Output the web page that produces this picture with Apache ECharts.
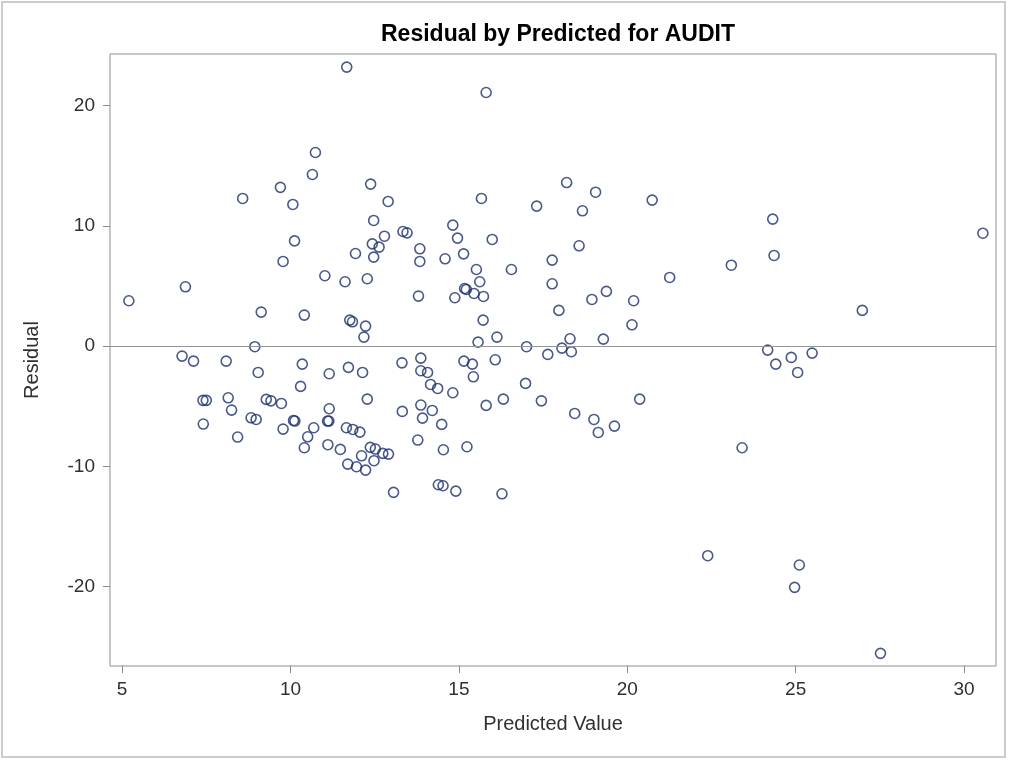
<!DOCTYPE html>
<html>
<head>
<meta charset="utf-8">
<script src="https://cdn.jsdelivr.net/npm/echarts@6/dist/echarts.min.js"></script>
<style>
  html, body { margin: 0; padding: 0; background: #ffffff; }
  #chart { width: 1012px; height: 760px; }
</style>
</head>
<body>
<div id="chart"></div>
<script>
// ---- Data ----
const predictedValues = [
  11.67, 10.74, 10.65, 9.70, 8.58, 10.07, 12.38, 12.90, 12.47, 10.12,
  12.79, 12.43, 12.63, 11.93, 12.47, 9.78, 11.02, 11.62, 12.28, 6.88,
  5.20, 9.13, 10.41, 11.76, 11.84, 12.23, 12.18, 8.94,
  6.78, 7.12, 8.09, 9.04, 10.35, 11.15, 11.72, 12.14, 10.30, 7.40,
  7.50, 8.15, 8.25, 9.28, 9.42, 9.73, 7.41, 8.43, 8.83, 8.98,
  9.78, 10.09, 10.13, 10.51, 10.41, 10.69, 11.15, 11.10, 11.14, 12.28,
  11.11, 11.48, 11.66, 11.85, 12.06, 12.11, 11.70, 11.96, 12.23, 12.48,
  12.37, 12.52, 12.74, 12.91, 13.06,
  15.81, 18.20, 19.06, 20.74, 18.67, 17.31, 15.67, 13.34, 13.46, 14.82,
  14.96, 13.84, 13.84, 14.59, 15.14, 15.99, 18.57, 17.77, 15.52, 16.56,
  15.62, 17.77, 21.26, 15.17, 15.22, 15.45, 15.73, 14.88, 13.80, 19.38,
  18.95, 20.19, 17.97, 15.72, 20.14, 16.13, 15.57, 18.30, 19.29, 17.01,
  17.64, 18.06, 18.34, 13.87,
  13.31, 13.87, 14.07, 15.15, 15.40, 16.08, 15.43, 16.98, 14.16, 14.37,
  14.82, 13.32, 13.87, 14.21, 13.92, 14.49, 15.81, 16.32, 17.45, 20.37,
  18.44, 19.01, 19.14, 19.62, 13.78, 14.54, 15.24, 14.39, 14.53, 14.91,
  16.28,
  24.32, 24.36, 23.09, 30.56, 26.98, 24.17, 24.41, 24.87, 25.49, 25.06,
  23.41, 22.39, 25.11, 24.97, 27.52
];
const residuals = [
  23.2, 16.1, 14.27, 13.2, 12.28, 11.78, 13.47, 12.03, 10.45, 8.75,
  9.14, 8.50, 8.23, 7.70, 7.40, 7.04, 5.85, 5.35, 5.60, 4.93,
  3.77, 2.83, 2.58, 2.16, 2.02, 1.66, 0.75, -0.05,
  -0.83, -1.25, -1.25, -2.19, -1.50, -2.30, -1.77, -2.19, -3.35, -4.51,
  -4.51, -4.30, -5.32, -4.43, -4.55, -4.77, -6.48, -7.56, -5.96, -6.10,
  -6.90, -6.18, -6.23, -7.54, -8.45, -6.79, -5.21, -6.23, -6.23, -4.41,
  -8.20, -8.59, -6.79, -6.93, -7.15, -9.12, -9.81, -10.03, -10.31, -9.53,
  -8.42, -8.56, -8.92, -8.98, -12.16,
  21.09, 13.6, 12.8, 12.14, 11.25, 11.64, 12.28, 9.53, 9.42, 10.06,
  8.98, 8.09, 7.04, 7.26, 7.67, 8.87, 8.34, 7.15, 6.37, 6.37,
  5.35, 5.18, 5.71, 4.79, 4.71, 4.38, 4.13, 4.02, 4.16, 4.55,
  3.88, 3.77, 2.97, 2.16, 1.77, 0.75, 0.33, 0.61, 0.58, -0.05,
  -0.69, -0.17, -0.47, -1.0,
  -1.39, -2.05, -2.19, -1.25, -1.50, -1.14, -2.55, -3.10, -3.19, -3.52,
  -3.88, -5.43, -4.90, -5.35, -5.99, -6.51, -4.93, -4.41, -4.55, -4.41,
  -5.60, -6.10, -7.18, -6.65, -7.81, -8.62, -8.37, -11.53, -11.61, -12.06,
  -12.28,
  10.56, 7.54, 6.73, 9.39, 2.97, -0.33, -1.50, -0.94, -0.58, -2.19,
  -8.45, -17.43, -18.2, -20.06, -25.55
];
const xTickValues = [5, 10, 15, 20, 25, 30];
const yTickValues = [-20, -10, 0, 10, 20];
const titleText = 'Residual by Predicted for AUDIT';
const xAxisName = 'Predicted Value';
const yAxisName = 'Residual';
const referenceValue = 0;

const points = predictedValues.map((x, i) => [x, residuals[i]]);

const FONT = "'Liberation Sans', Arial, sans-serif";
const chart = echarts.init(document.getElementById('chart'), null, { renderer: 'canvas' });

chart.setOption({
  animation: false,
  backgroundColor: '#ffffff',
  title: {
    text: titleText,
    left: 553,
    top: 18,
    textAlign: 'center',
    textStyle: { fontFamily: FONT, fontSize: 23, fontWeight: 'bold', color: '#000000' }
  },
  graphic: [{
    type: 'rect',
    shape: { x: 2, y: 2, width: 1003, height: 755 },
    style: { fill: 'none', stroke: '#cccccc', lineWidth: 2 },
    silent: true,
    z: -1
  }],
  grid: {
    left: 110, top: 54, right: 16, bottom: 94,
    show: true,
    borderColor: '#8f8f8f',
    borderWidth: 1,
    backgroundColor: 'transparent'
  },
  xAxis: {
    type: 'value',
    min: 4.64,
    max: 30.95,
    name: xAxisName,
    nameLocation: 'middle',
    nameGap: 48,
    nameTextStyle: { fontFamily: FONT, fontSize: 20, color: '#303030' },
    axisLine: { show: false, onZero: false },
    axisTick: { show: true, length: 7, customValues: xTickValues, lineStyle: { color: '#8a8a8a' } },
    axisLabel: { customValues: xTickValues, margin: 14, fontFamily: FONT, fontSize: 19, color: '#303030' },
    splitLine: { show: false }
  },
  yAxis: {
    type: 'value',
    min: -26.6,
    max: 24.29,
    name: yAxisName,
    nameLocation: 'middle',
    nameRotate: 90,
    nameGap: 68,
    nameTextStyle: { fontFamily: FONT, fontSize: 20, color: '#303030' },
    axisLine: { show: false, onZero: false },
    axisTick: { show: true, length: 7, customValues: yTickValues, lineStyle: { color: '#8a8a8a' } },
    axisLabel: { customValues: yTickValues, margin: 15, fontFamily: FONT, fontSize: 19, color: '#303030' },
    splitLine: { show: false }
  },
  series: [{
    type: 'scatter',
    data: points,
    symbol: 'circle',
    symbolSize: 10,
    itemStyle: { color: 'rgba(0,0,0,0)', borderColor: '#1b2f6c', borderWidth: 1.6 },
    emphasis: { disabled: true },
    markLine: {
      silent: true,
      symbol: ['none', 'none'],
      label: { show: false },
      lineStyle: { color: '#959595', width: 1, type: 'solid' },
      data: [{ yAxis: referenceValue }]
    },
    z: 3
  }]
});
</script>
</body>
</html>
